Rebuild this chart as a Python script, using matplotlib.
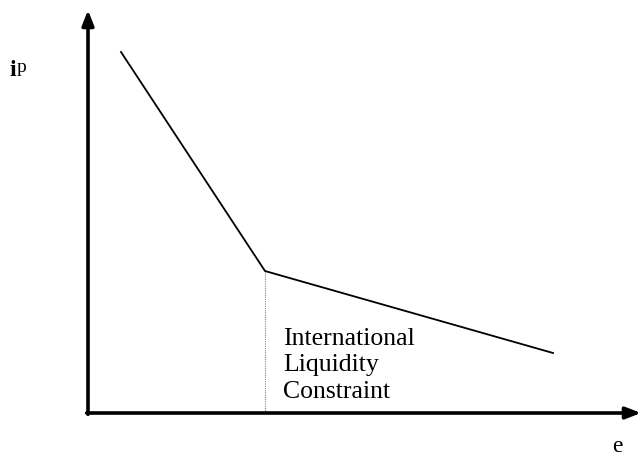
import matplotlib
matplotlib.use("Agg")
import matplotlib.pyplot as plt

# kinked curve (e, i^p) in plot units, origin at the axes corner
e_vals = [33, 177, 465]
i_vals = [361, 142, 60]
kink_e = 177
kink_i = 142
note = "International\nLiquidity\nConstraint"

plt.rcParams['font.family'] = ['Liberation Serif', 'DejaVu Serif']

fig = plt.figure(figsize=(6.42, 4.58), dpi=100)
ax = fig.add_axes([0, 0, 1, 1])
ax.set_xlim(-88, 554)
ax.set_ylim(-45, 413)
ax.axis('off')

# axes with arrow heads
arrow = dict(arrowstyle='-|>,head_length=0.9,head_width=0.35', lw=2.6,
             color='black', shrinkA=0, shrinkB=0)
ax.annotate('', xy=(0, 403), xytext=(0, -1.3), arrowprops=arrow,
            annotation_clip=False)
ax.annotate('', xy=(553, 0), xytext=(-1.3, 0), arrowprops=arrow,
            annotation_clip=False)

ax.plot(e_vals, i_vals, color='black', lw=1.3, solid_joinstyle='miter')
ax.plot([kink_e, kink_e], [0, kink_i], color='#888888', lw=0.8, ls=(0, (1, 1)))

ax.text(195, 85, note, fontsize=18.5, va='top', ha='left', linespacing=1.25)

ax.text(-79, 342, 'i', fontsize=17, fontweight='bold', va='center', ha='left')
ax.text(-71, 346, 'p', fontsize=14, va='center', ha='left')
ax.text(529, -33, 'e', fontsize=17, va='center', ha='center')

fig.savefig('out.png', dpi=100)
